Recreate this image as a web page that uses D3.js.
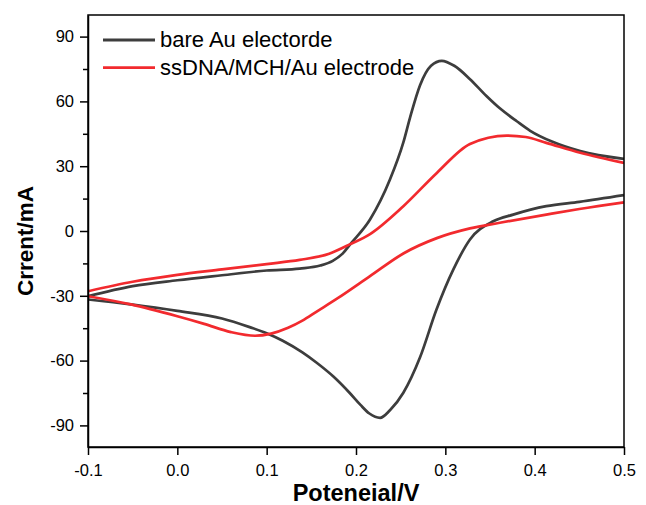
<!DOCTYPE html>
<html>
<head>
<meta charset="utf-8">
<script src="https://cdn.jsdelivr.net/npm/d3@7/dist/d3.min.js"></script>
<style>
  html, body { margin: 0; padding: 0; background: #fff; }
  svg { display: block; }
  text { font-family: "Liberation Sans", Arial, sans-serif; fill: #000; }
</style>
</head>
<body>
<svg id="chart" width="646" height="505"></svg>
<script>
// Cyclic voltammograms: potential (V) vs current, anodic (forward) and cathodic (reverse) sweeps
const bareFwdV = [-0.1, -0.05, 0.0, 0.05, 0.1, 0.137, 0.16, 0.174, 0.185, 0.193, 0.2157, 0.238, 0.253, 0.2605, 0.2717, 0.284, 0.296, 0.31, 0.3276, 0.346, 0.361, 0.38, 0.395, 0.42, 0.451, 0.5];
const bareFwdI = [-30.2, -25.5, -22.8, -20.5, -18.3, -17.4, -16.0, -13.8, -10.5, -6.4, 5.3, 23.8, 41.0, 52.5, 67.5, 76.5, 78.8, 76.5, 70.3, 62.5, 56.8, 50.8, 46.4, 41.3, 37.0, 33.4];
const bareRevV = [0.5, 0.45, 0.413, 0.376, 0.3537, 0.3276, 0.309, 0.29, 0.2717, 0.253, 0.238, 0.227, 0.215, 0.205, 0.193, 0.175, 0.156, 0.14, 0.118, 0.1, 0.081, 0.05, 0.0, -0.052, -0.1];
const bareRevI = [16.6, 13.5, 11.5, 7.6, 4.5, -3.9, -17.8, -36.5, -58.5, -74.9, -83.0, -86.5, -84.5, -80.5, -75.0, -67.5, -61.0, -56.2, -50.8, -47.3, -44.5, -40.5, -37.0, -34.0, -31.7];

const dnaFwdV = [-0.1, -0.05, 0.0, 0.05, 0.1, 0.137, 0.17, 0.193, 0.2157, 0.253, 0.2905, 0.3276, 0.3687, 0.39, 0.413, 0.451, 0.5];
const dnaFwdI = [-27.9, -23.5, -20.3, -17.8, -15.3, -13.4, -10.5, -6.2, -1.4, 11.5, 26.9, 40.3, 44.2, 43.5, 40.8, 36.2, 31.5];
const dnaRevV = [0.5, 0.45, 0.413, 0.361, 0.3276, 0.2905, 0.253, 0.2157, 0.18, 0.156, 0.14, 0.124, 0.105, 0.087, 0.06, 0.03, 0.0, -0.052, -0.1];
const dnaRevI = [13.3, 10.2, 7.6, 3.8, 1.2, -3.3, -10.4, -20.9, -31.0, -37.3, -41.5, -44.8, -47.5, -48.5, -46.8, -43.0, -39.5, -34.0, -30.2];

const xTicks = [-0.1, 0.0, 0.1, 0.2, 0.3, 0.4, 0.5];
const yTicks = [-90, -60, -30, 0, 30, 60, 90];
const yMinor = [-75, -45, -15, 15, 45, 75];

const seriesNames = ["bare Au electorde", "ssDNA/MCH/Au electrode"];
const seriesColors = ["#3d3d3d", "#f22a2e"];

const svg = d3.select("#chart");
const plotL = 88, plotR = 624, plotT = 15, plotB = 447;

const x = d3.scaleLinear().domain([-0.1, 0.5]).range([plotL, plotR]);
const y = d3.scaleLinear().domain([-100, 100]).range([plotB, plotT]);

// Each sweep is ordered by increasing potential so the monotone spline can follow it
const branch = (vs, is) => vs.map((v, k) => [v, is[k]]).sort((a, b) => a[0] - b[0]);
const series = [
  [branch(bareFwdV, bareFwdI), branch(bareRevV, bareRevI)],
  [branch(dnaFwdV, dnaFwdI), branch(dnaRevV, dnaRevI)]
];

svg.append("defs").append("clipPath").attr("id", "plot-clip")
  .append("rect").attr("x", plotL).attr("y", plotT).attr("width", plotR - plotL).attr("height", plotB - plotT);

const line = d3.line()
  .x(d => x(d[0]))
  .y(d => y(d[1]))
  .curve(d3.curveMonotoneX);

const plot = svg.append("g").attr("clip-path", "url(#plot-clip)");
series.forEach((branches, s) => {
  branches.forEach(b => {
    plot.append("path")
      .attr("d", line(b))
      .attr("fill", "none")
      .attr("stroke", seriesColors[s])
      .attr("stroke-width", 2.7)
      .attr("stroke-linejoin", "round");
  });
});

// Frame
svg.append("rect")
  .attr("x", plotL).attr("y", plotT)
  .attr("width", plotR - plotL).attr("height", plotB - plotT)
  .attr("fill", "none").attr("stroke", "#000").attr("stroke-width", 1.5);

// Axes (plain hyphen for negative labels)
const fmtX = d => (d < 0 ? "-" : "") + Math.abs(d).toFixed(1);
const fmtY = d => String(d);
const xAxis = svg.append("g").attr("transform", `translate(0,${plotB})`)
  .call(d3.axisBottom(x).tickValues(xTicks).tickSize(8).tickSizeOuter(0).tickPadding(9).tickFormat(fmtX));
const yAxis = svg.append("g").attr("transform", `translate(${plotL},0)`)
  .call(d3.axisLeft(y).tickValues(yTicks).tickSize(8).tickSizeOuter(0).tickPadding(6).tickFormat(fmtY));
svg.append("g").attr("transform", `translate(${plotL},0)`)
  .call(d3.axisLeft(y).tickValues(yMinor).tickSize(5).tickFormat(""))
  .call(g => g.select(".domain").remove());

svg.selectAll(".tick line").attr("stroke", "#000").attr("stroke-width", 1.5);
svg.selectAll(".domain").attr("stroke", "#000").attr("stroke-width", 1.5);
xAxis.selectAll("text").attr("font-size", 16.5).attr("font-family", "Liberation Sans, Arial, sans-serif").attr("fill", "#000");
yAxis.selectAll("text").attr("font-size", 16.5).attr("font-family", "Liberation Sans, Arial, sans-serif").attr("fill", "#000");

// Axis titles
svg.append("text")
  .attr("x", (plotL + plotR) / 2).attr("y", 501)
  .attr("text-anchor", "middle")
  .attr("font-size", 23.5).attr("font-weight", "bold")
  .text("Poteneial/V");
svg.append("text")
  .attr("transform", "translate(33,241) rotate(-90)")
  .attr("text-anchor", "middle")
  .attr("font-size", 22.5).attr("font-weight", "bold")
  .text("Crrent/mA");

// Legend
const legend = svg.append("g");
seriesNames.forEach((name, s) => {
  const ly = 40 + s * 27.7;
  legend.append("line")
    .attr("x1", 103).attr("x2", 155).attr("y1", ly).attr("y2", ly)
    .attr("stroke", seriesColors[s]).attr("stroke-width", 2.8);
  legend.append("text")
    .attr("x", 160).attr("y", ly + 7.3)
    .attr("font-size", 22)
    .text(name);
});
</script>
</body>
</html>
